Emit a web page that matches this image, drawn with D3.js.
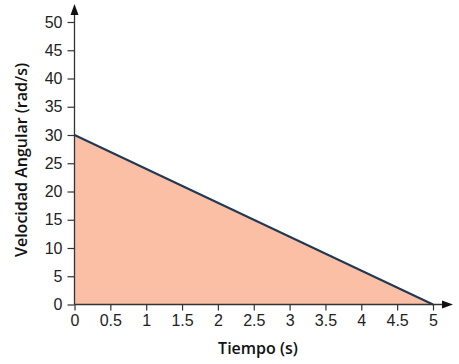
<!DOCTYPE html>
<html>
<head>
<meta charset="utf-8">
<script src="https://cdn.jsdelivr.net/npm/d3@7"></script>
<style>
  body { margin: 0; background: #fff; }
  .title { font-family: "Open Sans", sans-serif; font-weight: 600; font-size: 16px; fill: #111; }
</style>
</head>
<body>
<svg width="459" height="364"></svg>
<script>
// datos
const tiempo = [0, 5];
const velocidad = [30, 0];
const xTicks = [0, 0.5, 1, 1.5, 2, 2.5, 3, 3.5, 4, 4.5, 5];
const yTicks = [0, 5, 10, 15, 20, 25, 30, 35, 40, 45, 50];

const svg = d3.select('svg');

const x = d3.scaleLinear().domain([0, 5]).range([74.5, 433]);
const y = d3.scaleLinear().domain([0, 50]).range([304.5, 22]);

const puntos = tiempo.map((t, i) => ({ t: t, v: velocidad[i] }));

// area bajo la recta
svg.append('path')
  .datum(puntos)
  .attr('fill', '#fbbfa6')
  .attr('d', d3.area().x(d => x(d.t)).y0(y(0)).y1(d => y(d.v)));

svg.append('path')
  .datum(puntos)
  .attr('fill', 'none')
  .attr('stroke', '#1f3856')
  .attr('stroke-width', 2)
  .attr('d', d3.line().x(d => x(d.t)).y(d => y(d.v)));

// ejes
const xAxis = svg.append('g')
  .attr('transform', `translate(0,${y(0)})`)
  .call(d3.axisBottom(x).tickValues(xTicks).tickFormat(d3.format('')).tickSize(6).tickPadding(4));
const yAxis = svg.append('g')
  .attr('transform', `translate(${x(0)},0)`)
  .call(d3.axisLeft(y).tickValues(yTicks).tickSize(7).tickPadding(5));

[xAxis, yAxis].forEach(g => {
  g.attr('font-family', '"Liberation Sans", Arial, sans-serif').attr('font-size', 16);
  g.select('.domain').remove();
  g.selectAll('.tick line').attr('stroke', '#333').attr('stroke-width', 1.2);
  g.selectAll('.tick text').attr('fill', '#222');
});

// lineas de eje con flechas
svg.append('line')
  .attr('x1', x(0)).attr('y1', y(0))
  .attr('x2', x(0)).attr('y2', 12)
  .attr('stroke', '#333').attr('stroke-width', 1.3);
svg.append('path')
  .attr('d', `M${x(0)},4 L${x(0) - 4},15 L${x(0) + 4},15 Z`)
  .attr('fill', '#111');

svg.append('line')
  .attr('x1', x(0)).attr('y1', y(0))
  .attr('x2', 444).attr('y2', y(0))
  .attr('stroke', '#333').attr('stroke-width', 1.3);
svg.append('path')
  .attr('d', `M453,${y(0)} L442,${y(0) - 4} L442,${y(0) + 4} Z`)
  .attr('fill', '#111');

// titulos
svg.append('text')
  .attr('class', 'title')
  .attr('x', 258).attr('y', 354)
  .attr('text-anchor', 'middle')
  .text('Tiempo (s)');

svg.append('text')
  .attr('class', 'title')
  .attr('transform', 'translate(27,160) rotate(-90)')
  .attr('text-anchor', 'middle')
  .text('Velocidad Angular (rad/s)');
</script>
</body>
</html>
